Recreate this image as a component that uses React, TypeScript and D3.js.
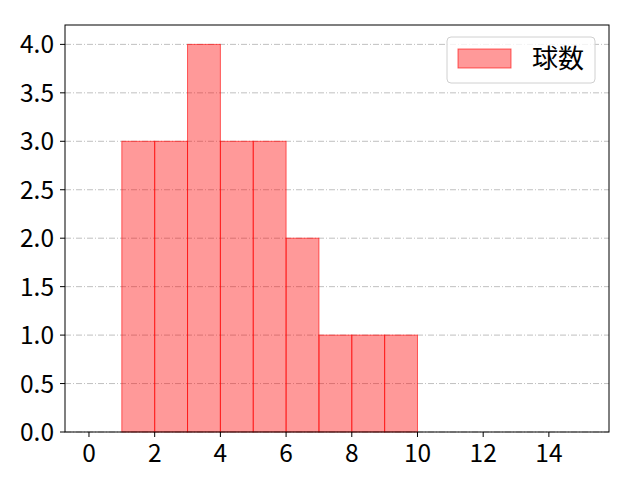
import React from "react";
import * as d3 from "d3";

const binEdges = [1, 2, 3, 4, 5, 6, 7, 8, 9, 10];
const counts = [3, 3, 4, 3, 3, 2, 1, 1, 1];
const xTicks = [0, 2, 4, 6, 8, 10, 12, 14];
const yTicks = [0, 0.5, 1, 1.5, 2, 2.5, 3, 3.5, 4];
const legendLabel = "球数";

const W = 640, H = 480;
const M = { left: 65, right: 609, top: 25, bottom: 432 };
const FONT = "'Noto Sans CJK JP', 'Noto Sans', sans-serif";

export default function App() {
  const x = d3.scaleLinear().domain([-0.73, 15.83]).range([M.left, M.right]);
  const y = d3.scaleLinear().domain([0, 4.2]).range([M.bottom, M.top]);
  const bars = counts.map((c, i) => ({ x0: binEdges[i], x1: binEdges[i + 1], c }));
  return (
    <svg width={W} height={H} style={{ position: "absolute", left: 0, top: 0, background: "#fff" }}>
      <rect x={0} y={0} width={W} height={H} fill="#fff" />
      {yTicks.map((t) => (
        <line key={"g" + t} x1={M.left} x2={M.right} y1={y(t)} y2={y(t)} stroke="#b0b0b0" strokeWidth={0.8} strokeDasharray="6,2,1,2" />
      ))}
      {bars.map((b, i) => (
        <rect key={i} x={x(b.x0)} y={y(b.c)} width={x(b.x1) - x(b.x0)} height={y(0) - y(b.c)} fill="rgba(255,0,0,0.4)" stroke="rgba(255,0,0,0.6)" strokeWidth={1} />
      ))}
      <rect x={M.left} y={M.top} width={M.right - M.left} height={M.bottom - M.top} fill="none" stroke="#000" strokeWidth={1} />
      {xTicks.map((t) => (
        <g key={"x" + t}>
          <line x1={x(t)} x2={x(t)} y1={M.bottom} y2={M.bottom + 5} stroke="#000" />
          <text x={x(t)} y={462} textAnchor="middle" fontFamily={FONT} fontSize={24.5} fill="#000">{t}</text>
        </g>
      ))}
      {yTicks.map((t) => (
        <g key={"y" + t}>
          <line x1={M.left - 5} x2={M.left} y1={y(t)} y2={y(t)} stroke="#000" />
          <text x={M.left - 11} y={y(t) + 9} textAnchor="end" fontFamily={FONT} fontSize={24.5} fill="#000">{t.toFixed(1)}</text>
        </g>
      ))}
      <g>
        <rect x={447} y={37} width={148} height={46} rx={4} fill="rgba(255,255,255,0.8)" stroke="#d0d0d0" />
        <rect x={458} y={49} width={53} height={19} fill="rgba(255,0,0,0.4)" stroke="rgba(255,0,0,0.6)" />
        <text x={532} y={68} fontFamily={FONT} fontSize={26} fill="#000">{legendLabel}</text>
      </g>
    </svg>
  );
}
